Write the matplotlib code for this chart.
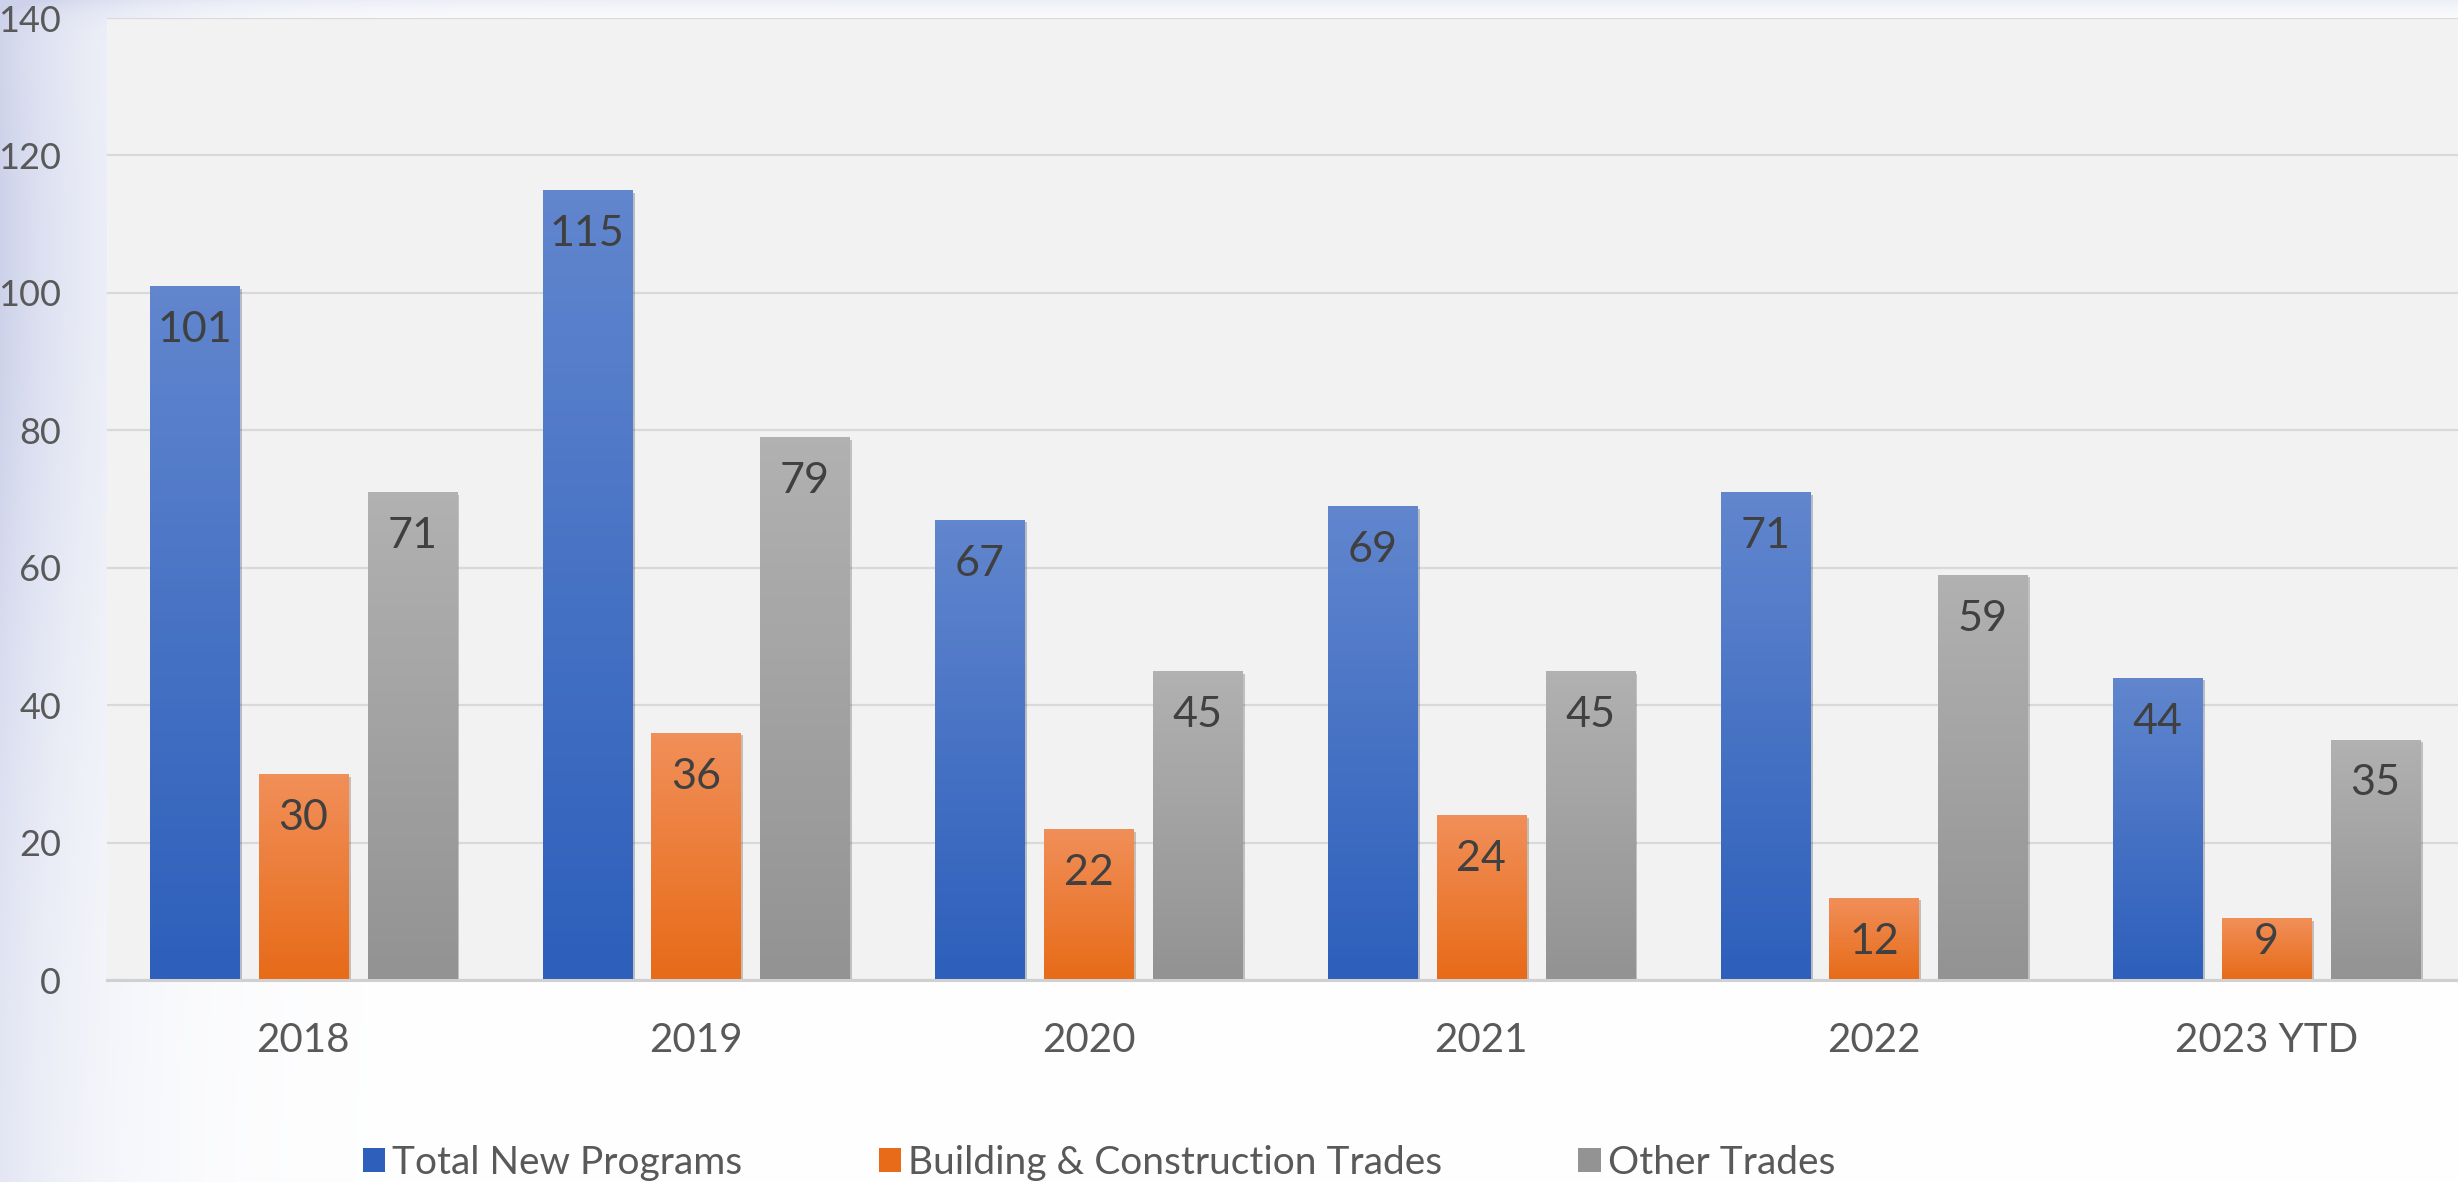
import matplotlib
matplotlib.use('Agg')
import matplotlib.pyplot as plt
import matplotlib.patheffects as pe
from matplotlib.patches import Patch
import numpy as np
import matplotlib.colors as colors

years = ['2018', '2019', '2020', '2021', '2022', '2023 YTD']
series_names = ['Total New Programs', 'Building & Construction Trades', 'Other Trades']
total_new = [101, 115, 67, 69, 71, 44]
building = [30, 36, 22, 24, 12, 9]
other = [71, 79, 45, 45, 59, 35]
y_ticks = [0, 20, 40, 60, 80, 100, 120, 140]

# gradient (top colour, bottom colour) for each series
grads = [('#6186CE', '#2D5FBB'),
         ('#F18F59', '#E76B18'),
         ('#B1B1B1', '#939393')]

W, H = 2458, 1182


def add_background(fig):
    bg = fig.add_axes([0, 0, 1, 1], zorder=-10)
    bg.set_axis_off()
    xx, yy = np.meshgrid(np.arange(W), np.arange(H))
    fade = np.exp(-xx / 110.0) * (0.55 + 0.45 * np.exp(-((yy - 250) / 500.0) ** 2))
    top = np.exp(-yy / 14.0) * 0.35
    a = np.clip(fade + top, 0, 1)[..., None]
    tint = np.array(colors.to_rgb('#CDD2EA'))
    img = (1 - a) * np.ones(3) + a * tint
    bg.imshow(img, extent=[0, 1, 0, 1], aspect='auto', origin='upper')
    bg.set_xlim(0, 1)
    bg.set_ylim(0, 1)


def gradient_bar(ax, x, h, width, top_c, bot_c):
    rect = ax.bar(x, h, width, color=bot_c, zorder=3,
                  path_effects=[pe.SimplePatchShadow(offset=(2, -2), alpha=0.25),
                                pe.Normal()])[0]
    grad = np.linspace(0, 1, 64)[:, None]
    cmap = colors.LinearSegmentedColormap.from_list('g', [top_c, bot_c])
    im = ax.imshow(grad, cmap=cmap, aspect='auto', origin='upper',
                   extent=[x - width / 2, x + width / 2, 0, h], zorder=4)
    im.set_clip_path(rect)
    return rect


def main():
    plt.rcParams['font.family'] = ['Lato', 'DejaVu Sans']
    fig = plt.figure(figsize=(W / 100, H / 100), dpi=100)
    add_background(fig)

    ax = fig.add_axes([107 / W, 1 - 980 / H, (2463 - 107) / W, (980 - 18) / H])
    ax.set_facecolor('#F2F2F2')

    x = np.arange(len(years))
    width = 0.227
    offsets = [-0.277, 0, 0.277]
    data = [total_new, building, other]

    for s, vals in enumerate(data):
        for i, v in enumerate(vals):
            xi = x[i] + offsets[s]
            gradient_bar(ax, xi, v, width, *grads[s])
            ax.text(xi, max(v - 6.4, 5.5), str(v), ha='center', va='center',
                    fontsize=31, color='#404040', zorder=6)

    ax.set_xlim(-0.5, len(years) - 0.5)
    ax.set_ylim(0, 140)
    ax.set_yticks(y_ticks)
    ax.set_xticks(x)
    ax.set_xticklabels(years)
    ax.yaxis.grid(True, color='#D9D9D9', linewidth=1.6, zorder=1)
    ax.set_axisbelow(True)
    for side in ['top', 'right', 'left']:
        ax.spines[side].set_visible(False)
    ax.spines['bottom'].set_color('#D0D0D0')
    ax.spines['bottom'].set_linewidth(2.2)
    ax.spines['bottom'].set_zorder(5)
    ax.tick_params(axis='both', length=0, colors='#595959')
    ax.tick_params(axis='x', labelsize=29, pad=30)
    ax.tick_params(axis='y', labelsize=26, pad=33)

    handles = [Patch(facecolor=g[1], edgecolor='none') for g in grads]
    fig.legend(handles, series_names, loc='center', ncol=3,
               bbox_to_anchor=(1099 / W, 1 - 1163 / H), frameon=False,
               fontsize=28, labelcolor='#595959', handlelength=0.58,
               handleheight=0.58, handletextpad=0.18, columnspacing=3.5,
               borderpad=0)

    fig.savefig('out.png', dpi=100)


if __name__ == '__main__':
    main()
